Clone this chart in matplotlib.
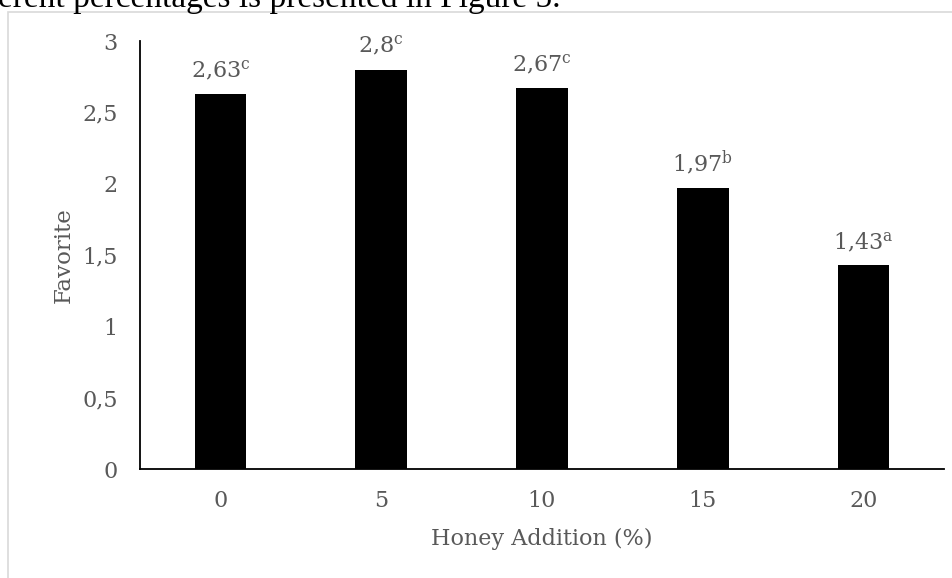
import matplotlib
matplotlib.use('Agg')
import matplotlib.pyplot as plt
import matplotlib.patches as patches

# data
honey = ['0', '5', '10', '15', '20']
favorite = [2.63, 2.80, 2.67, 1.97, 1.43]
value_text = ['2,63', '2,8', '2,67', '1,97', '1,43']
letters = ['c', 'c', 'c', 'b', 'a']
yticks = [0, 0.5, 1, 1.5, 2, 2.5, 3]
ytick_text = ['0', '0,5', '1', '1,5', '2', '2,5', '3']

grey = '#595959'
fs = 16
plt.rcParams['font.family'] = 'DejaVu Serif'
plt.rcParams['mathtext.fontset'] = 'dejavuserif'

fig = plt.figure(figsize=(9.53, 5.78), dpi=100)
W, H = 953.0, 578.0

# chart frame (light grey, runs off the right and bottom of the crop)
fig.patches.append(patches.Rectangle((8 / W, -0.05), 1.0, 1 - 12 / H + 0.05,
                                     transform=fig.transFigure, fill=False,
                                     edgecolor='#d9d9d9', linewidth=1.2))

# clipped caption line from the page above
fig.text(-0.002, 1 - 7 / H, 'erent percentages is presented in Figure 5.',
         fontsize=24, color='black', va='baseline', ha='left',
         family='Liberation Serif')

ax = fig.add_axes([140 / W, 1 - 469 / H, 804 / W, 428 / H])
x = list(range(len(honey)))
ax.bar(x, favorite, width=0.32, color='black')

for i in x:
    ax.annotate(value_text[i] + r'$^{\mathrm{' + letters[i] + '}}$',
                (i, favorite[i]), xytext=(0, 8), textcoords='offset points',
                ha='center', va='bottom', fontsize=fs, color=grey)

ax.set_xlim(-0.5, 4.5)
ax.set_ylim(0, 3)
ax.set_xticks(x)
ax.set_xticklabels(honey)
ax.set_yticks(yticks)
ax.set_yticklabels(ytick_text)
ax.tick_params(length=0, labelsize=fs, labelcolor=grey)
ax.tick_params(axis='y', pad=16)
ax.tick_params(axis='x', pad=15)

for s in ['top', 'right']:
    ax.spines[s].set_visible(False)
ax.spines['left'].set_color('black')
ax.spines['bottom'].set_color('black')
ax.spines['left'].set_linewidth(1.3)
ax.spines['bottom'].set_linewidth(1.3)

ax.set_xlabel('Honey Addition (%)', fontsize=fs, color=grey)
ax.set_ylabel('Favorite', fontsize=fs + 0.5, color=grey)
ax.xaxis.set_label_coords(0.5, -(539 - 469) / 428.0)
ax.yaxis.set_label_coords((64 - 140) / 804.0, 0.5)
ax.xaxis.label.set_va('center')
ax.yaxis.label.set_va('center')

plt.savefig('out.png', dpi=100)
